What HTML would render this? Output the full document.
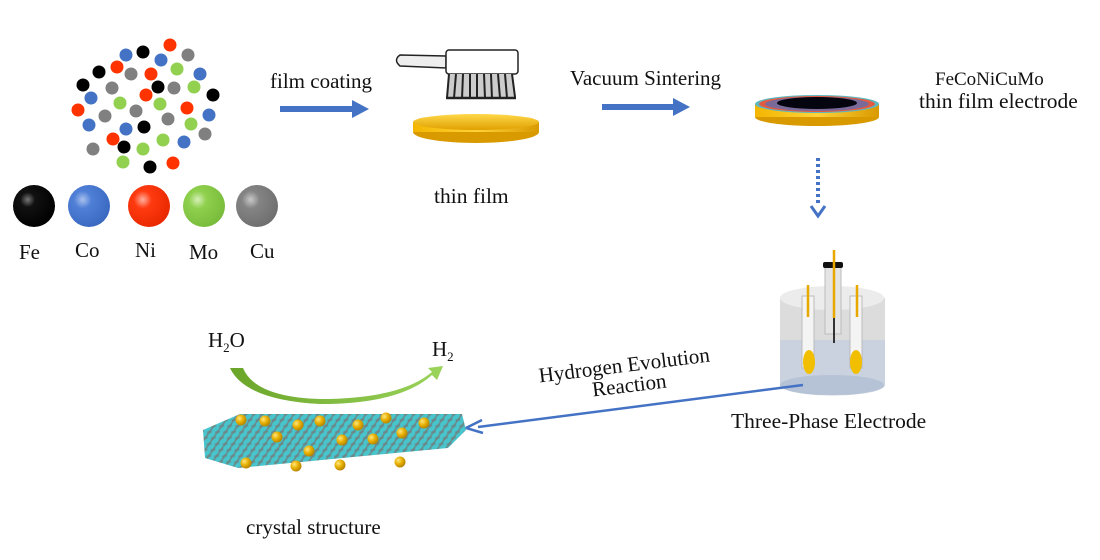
<!DOCTYPE html>
<html><head><meta charset="utf-8"><style>
html,body{margin:0;padding:0;background:#fff;}
svg{display:block;}
text{font-family:"Liberation Serif",serif;fill:#111;}
</style></head><body>
<svg width="1100" height="560" viewBox="0 0 1100 560" xmlns="http://www.w3.org/2000/svg">
<defs>
<radialGradient id="gk" cx="0.35" cy="0.35" r="0.7"><stop offset="0" stop-color="#777"/><stop offset="0.25" stop-color="#111"/><stop offset="1" stop-color="#000"/></radialGradient>
<radialGradient id="gb" cx="0.35" cy="0.35" r="0.7"><stop offset="0" stop-color="#a9c1ee"/><stop offset="0.3" stop-color="#4f7fd6"/><stop offset="1" stop-color="#3a68c0"/></radialGradient>
<radialGradient id="gr" cx="0.35" cy="0.35" r="0.7"><stop offset="0" stop-color="#ffb0a0"/><stop offset="0.3" stop-color="#ff3a10"/><stop offset="1" stop-color="#e82800"/></radialGradient>
<radialGradient id="gg" cx="0.35" cy="0.35" r="0.7"><stop offset="0" stop-color="#d6f0b8"/><stop offset="0.3" stop-color="#8fd04e"/><stop offset="1" stop-color="#78bb3a"/></radialGradient>
<radialGradient id="gy" cx="0.35" cy="0.35" r="0.7"><stop offset="0" stop-color="#c8c8c8"/><stop offset="0.3" stop-color="#848484"/><stop offset="1" stop-color="#6e6e6e"/></radialGradient>
<linearGradient id="gold" x1="0" y1="0" x2="0" y2="1"><stop offset="0" stop-color="#ffd84a"/><stop offset="1" stop-color="#e0a000"/></linearGradient>
<linearGradient id="gold2" x1="0" y1="0" x2="1" y2="0"><stop offset="0" stop-color="#f3b600"/><stop offset="0.5" stop-color="#ffd23a"/><stop offset="1" stop-color="#d99a00"/></linearGradient>
<linearGradient id="green" x1="0" y1="0" x2="1" y2="0"><stop offset="0" stop-color="#6aa52a"/><stop offset="1" stop-color="#9ad45a"/></linearGradient>
<pattern id="cry" width="8" height="6" patternUnits="userSpaceOnUse" patternTransform="skewX(-35)">
<rect width="8" height="6" fill="#6a8a8a"/>
<circle cx="4" cy="3" r="3.2" fill="#48c4cc"/>
</pattern>
<radialGradient id="au" cx="0.35" cy="0.35" r="0.7"><stop offset="0" stop-color="#ffe680"/><stop offset="0.5" stop-color="#e8b000"/><stop offset="1" stop-color="#b08000"/></radialGradient>
</defs>

<g>
<circle cx="170" cy="45" r="6.5" fill="#ff3300"/><circle cx="126" cy="55" r="6.5" fill="#4472c4"/><circle cx="143" cy="52" r="6.5" fill="#000"/><circle cx="161" cy="60" r="6.5" fill="#4472c4"/><circle cx="188" cy="55" r="6.5" fill="#808080"/>
<circle cx="117" cy="67" r="6.5" fill="#ff3300"/><circle cx="99" cy="72" r="6.5" fill="#000"/><circle cx="131" cy="74" r="6.5" fill="#808080"/><circle cx="151" cy="74" r="6.5" fill="#ff3300"/><circle cx="177" cy="69" r="6.5" fill="#92d050"/><circle cx="200" cy="74" r="6.5" fill="#4472c4"/>
<circle cx="83" cy="85" r="6.5" fill="#000"/><circle cx="112" cy="88" r="6.5" fill="#808080"/><circle cx="158" cy="87" r="6.5" fill="#000"/><circle cx="174" cy="88" r="6.5" fill="#808080"/><circle cx="194" cy="87" r="6.5" fill="#92d050"/><circle cx="213" cy="95" r="6.5" fill="#000"/>
<circle cx="91" cy="98" r="6.5" fill="#4472c4"/><circle cx="120" cy="103" r="6.5" fill="#92d050"/><circle cx="146" cy="95" r="6.5" fill="#ff3300"/><circle cx="160" cy="104" r="6.5" fill="#92d050"/>
<circle cx="78" cy="110" r="6.5" fill="#ff3300"/><circle cx="136" cy="111" r="6.5" fill="#808080"/><circle cx="105" cy="116" r="6.5" fill="#808080"/><circle cx="187" cy="108" r="6.5" fill="#ff3300"/><circle cx="209" cy="115" r="6.5" fill="#4472c4"/><circle cx="168" cy="119" r="6.5" fill="#808080"/>
<circle cx="89" cy="125" r="6.5" fill="#4472c4"/><circle cx="126" cy="129" r="6.5" fill="#4472c4"/><circle cx="144" cy="127" r="6.5" fill="#000"/><circle cx="191" cy="124" r="6.5" fill="#92d050"/>
<circle cx="113" cy="139" r="6.5" fill="#ff3300"/><circle cx="163" cy="140" r="6.5" fill="#92d050"/><circle cx="205" cy="134" r="6.5" fill="#808080"/><circle cx="124" cy="147" r="6.5" fill="#000"/><circle cx="143" cy="149" r="6.5" fill="#92d050"/><circle cx="184" cy="142" r="6.5" fill="#4472c4"/><circle cx="93" cy="149" r="6.5" fill="#808080"/>
<circle cx="123" cy="162" r="6.5" fill="#92d050"/><circle cx="150" cy="167" r="6.5" fill="#000"/><circle cx="173" cy="163" r="6.5" fill="#ff3300"/>
</g>

<circle cx="34" cy="206" r="21" fill="url(#gk)"/>
<circle cx="89" cy="206" r="21" fill="url(#gb)"/>
<circle cx="149" cy="206" r="21" fill="url(#gr)"/>
<circle cx="204" cy="206" r="21" fill="url(#gg)"/>
<circle cx="257" cy="206" r="21" fill="url(#gy)"/>
<g font-size="21">
<text x="19" y="259">Fe</text><text x="75" y="257">Co</text><text x="135" y="257">Ni</text><text x="189" y="259">Mo</text><text x="250" y="258">Cu</text>
</g>

<text x="270" y="88" font-size="21">film coating</text>
<path d="M280 109 H355" stroke="#4472c4" stroke-width="6"/>
<path d="M352 100 L369 109 L352 118 Z" fill="#4472c4"/>

<g stroke="#222" stroke-width="1.5" fill="#fff">
<path d="M446 56 L400 55 Q393 60 400 66 L446 68 Z" fill="#eee"/>
<rect x="446" y="50" width="72" height="24" rx="3"/>
<path d="M449 74 L446 98 L516 98 L513 74 Z" fill="#ccc" stroke="none"/>
<path d="M449 74 L447 98 M456 74 L454 98 M463 74 L462 99 M470 74 L470 98 M477 74 L477 99 M484 74 L485 98 M491 74 L492 99 M498 74 L500 98 M505 74 L507 98 M512 74 L515 97" stroke-width="2"/>
<path d="M446 98 L516 98" stroke-width="2.5"/>
</g>
<ellipse cx="476" cy="132" rx="63" ry="11" fill="#d99a00"/>
<rect x="413" y="122" width="126" height="10" fill="url(#gold2)"/>
<ellipse cx="476" cy="122" rx="63" ry="8" fill="url(#gold)"/>
<text x="434" y="203" font-size="21.5">thin film</text>

<text x="570" y="85" font-size="21">Vacuum Sintering</text>
<path d="M602 107 H676" stroke="#4472c4" stroke-width="6"/>
<path d="M673 98 L690 107 L673 116 Z" fill="#4472c4"/>

<ellipse cx="817" cy="117" rx="62" ry="9" fill="#d99a00"/>
<rect x="755" y="104" width="124" height="13" fill="url(#gold2)"/>
<ellipse cx="817" cy="104" rx="62" ry="9" fill="#5fb8c0"/>
<ellipse cx="817" cy="104" rx="58" ry="8" fill="#e35a40"/>
<ellipse cx="817" cy="104" rx="52" ry="7" fill="#7a6a9a"/>
<ellipse cx="817" cy="103" rx="40" ry="6" fill="#050510"/>
<text x="935" y="85" font-size="19">FeCoNiCuMo</text>
<text x="919" y="108" font-size="21.5">thin film electrode</text>

<path d="M818 158 V205" stroke="#4472c4" stroke-width="4" stroke-dasharray="3,3"/>
<path d="M811 206 L818 216 L825 206" fill="none" stroke="#4472c4" stroke-width="3"/>

<g>
<path d="M780 298 V385 A50 10 0 0 0 885 385 V298 Z" fill="#c9d2de"/>
<ellipse cx="832" cy="385" rx="52" ry="10" fill="#b6c2d6"/>
<path d="M780 298 V340 H885 V298 Z" fill="#dcdcdc"/>
<ellipse cx="832" cy="298" rx="52" ry="12" fill="#ececec"/>
<rect x="802" y="296" width="12" height="72" fill="#f4f4f4" stroke="#bbb"/>
<rect x="850" y="296" width="12" height="72" fill="#f4f4f4" stroke="#bbb"/>
<rect x="825" y="264" width="16" height="70" fill="#e4e4e4" stroke="#bbb"/>
<rect x="823" y="262" width="20" height="6" rx="2" fill="#111"/>
<path d="M834 250 V318" stroke="#e8a800" stroke-width="2.5"/>
<path d="M834 318 V343" stroke="#333" stroke-width="2"/>
<path d="M808 285 V317" stroke="#e8a800" stroke-width="2.5"/>
<path d="M857 285 V317" stroke="#e8a800" stroke-width="2.5"/>
<ellipse cx="809" cy="362" rx="6" ry="12" fill="#f2be00"/>
<ellipse cx="856" cy="362" rx="6" ry="12" fill="#f2be00"/>
</g>
<text x="731" y="428" font-size="21.5">Three-Phase Electrode</text>

<path d="M803 385 L478 427" stroke="#4472c4" stroke-width="2.5"/>
<path d="M482 420 L466 428 L483 433" fill="none" stroke="#4472c4" stroke-width="2.5"/>
<text x="625" y="372" font-size="21" transform="rotate(-7 625 372)" text-anchor="middle">Hydrogen Evolution</text>
<text x="630" y="392" font-size="21" transform="rotate(-7 630 392)" text-anchor="middle">Reaction</text>

<text x="208" y="347" font-size="21">H<tspan font-size="13" dy="5">2</tspan><tspan dy="-5">O</tspan></text>
<text x="432" y="356" font-size="21">H<tspan font-size="13" dy="5">2</tspan></text>
<path d="M230 368 Q245 400 320 404 Q400 404 432 375 L437 380 L443 366 L428 368 L432 372 Q400 399 320 399 Q255 397 243 368 Z" fill="url(#green)"/>

<polygon points="203,430 240,414 462,414 466,430 448,448 238,468 205,458" fill="url(#cry)"/>
<g fill="url(#au)">
<circle cx="241" cy="420" r="5.5"/><circle cx="265" cy="421" r="5.5"/><circle cx="298" cy="425" r="5.5"/><circle cx="320" cy="421" r="5.5"/>
<circle cx="358" cy="425" r="5.5"/><circle cx="386" cy="418" r="5.5"/><circle cx="424" cy="423" r="5.5"/>
<circle cx="277" cy="437" r="5.5"/><circle cx="342" cy="440" r="5.5"/><circle cx="373" cy="439" r="5.5"/><circle cx="402" cy="433" r="5.5"/>
<circle cx="309" cy="451" r="5.5"/><circle cx="246" cy="463" r="5.5"/><circle cx="296" cy="466" r="5.5"/><circle cx="340" cy="465" r="5.5"/><circle cx="400" cy="462" r="5.5"/>
</g>
<text x="246" y="534" font-size="21">crystal structure</text>
</svg>
</body></html>
